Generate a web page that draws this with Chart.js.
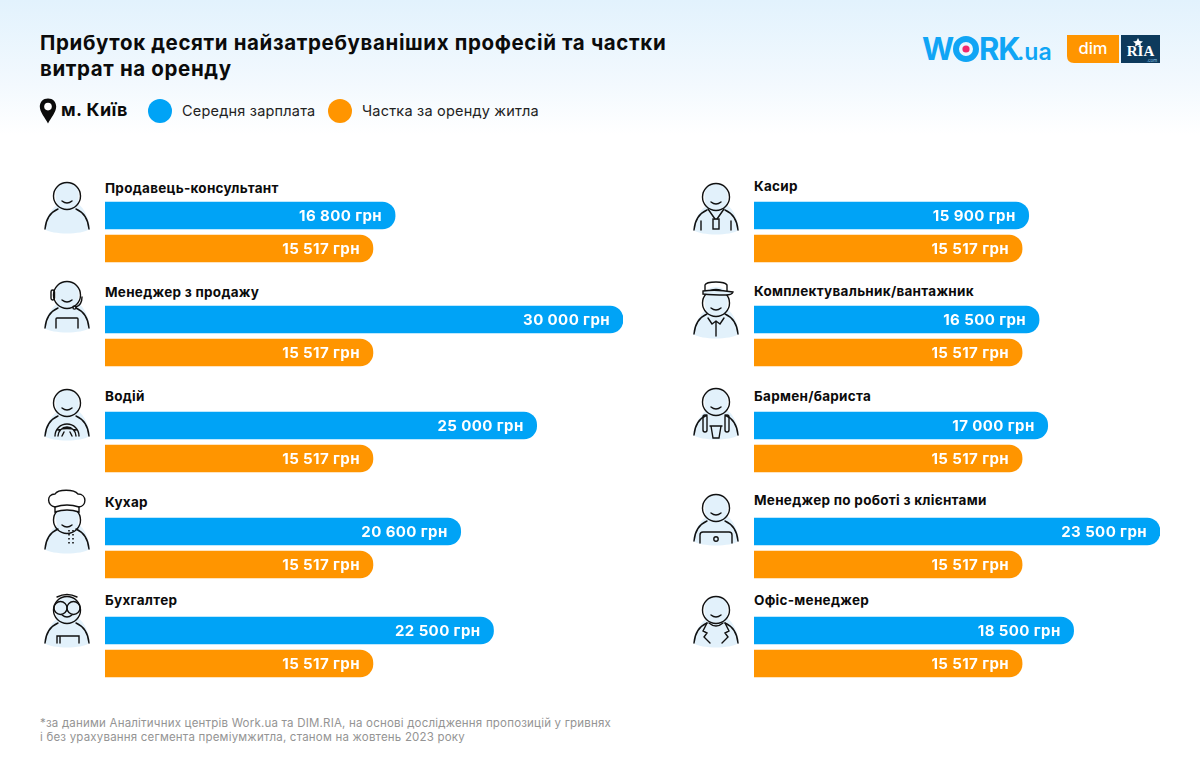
<!DOCTYPE html>
<html lang="uk">
<head>
<meta charset="utf-8">
<title>Прибуток десяти найзатребуваніших професій</title>
<script src="https://cdn.jsdelivr.net/npm/chart.js@4"></script>
<style>
html, body { margin: 0; padding: 0; }
body { width: 1200px; height: 773px; position: relative; overflow: hidden; color: #0b0b0b;
    font-family: Inter, "Noto Sans", sans-serif;
    background: linear-gradient(#e2f2fd 0, #f3f9fe 85px, #fff 135px); }
.abs { position: absolute; white-space: nowrap; }
.title { left: 40px; top: 30px; font-size: 20.5px; line-height: 26px; font-weight: 700; letter-spacing: 0.63px; }
.city { left: 61px; top: 99px; font-size: 18px; font-weight: 700; line-height: 22px; letter-spacing: 0.4px; }
.dot { width: 24px; height: 24px; border-radius: 50%; top: 99px; }
.leg { top: 102px; font-size: 14.5px; line-height: 18px; color: #222; letter-spacing: 0.2px; }
.job { font-size: 13.5px; font-weight: 700; line-height: 16px; letter-spacing: 0.28px; }
.note { left: 40px; top: 716px; font-size: 11.5px; line-height: 14px; color: #949494; letter-spacing: 0.2px; }
canvas { position: absolute; }
svg { overflow: visible; }
</style>
</head>
<body>
<div class="abs title">Прибуток десяти найзатребуваніших професій та частки<br>витрат на оренду</div>
<svg class="abs" style="left:39px;top:98px" width="18" height="26" viewBox="0 0 18 26">
    <path d="M9 0.5C4 0.5 0.8 4 0.8 8.6 0.8 14 6 20 9 25.5 12 20 17.2 14 17.2 8.6 17.2 4 14 0.5 9 0.5Z" fill="#0b0b0b"/>
    <circle cx="9" cy="8.6" r="3.8" fill="#fff"/>
</svg>
<div class="abs city">м. Київ</div>
<div class="abs dot" style="left:148px;background:#00a3f6"></div>
<div class="abs leg" style="left:182px">Середня зарплата</div>
<div class="abs dot" style="left:328px;background:#ff9500"></div>
<div class="abs leg" style="left:362px">Частка за оренду житла</div>

<svg class="abs" style="left:920px;top:30px" width="240" height="40" viewBox="0 0 240 40">
    <text x="2" y="30" font-family="Inter" font-weight="700" font-size="31" letter-spacing="-1" fill="#10a5f5">W</text>
    <circle cx="46" cy="19" r="10" fill="none" stroke="#10a5f5" stroke-width="6"/>
    <circle cx="46" cy="19" r="3.6" fill="#f0286e"/>
    <text x="59" y="30" font-family="Inter" font-weight="700" font-size="31" letter-spacing="-1" fill="#10a5f5">RK</text>
    <text x="97" y="30" font-family="Inter" font-weight="600" font-size="23" fill="#10a5f5">.ua</text>
    <path d="M147 5H199V33H154Q147 33 147 26Z" fill="#ff9500"/>
    <text x="173" y="24" text-anchor="middle" font-family="Inter" font-weight="500" font-size="16.5" fill="#fff">dim</text>
    <rect x="201" y="5" width="39" height="28" fill="#0d3a5c"/>
    <path d="M218 8L219.500 11L223 11.500L220.500 13.500L221 16.500L218 15L215 16.500L215.500 13.500L213 11.500L216.500 11Z" fill="#fff"/>
    <text x="220.500" y="26" text-anchor="middle" font-family="Liberation Serif" font-weight="700" font-size="15" fill="#fff">RIA</text>
    <text x="232" y="31.500" text-anchor="middle" font-family="Inter" font-size="4.500" fill="#8fc4e8">.com</text>
</svg>

<div class="abs note">*за даними Аналітичних центрів Work.ua та DIM.RIA, на основі дослідження пропозицій у гривнях<br>і без урахування сегмента преміумжитла, станом на жовтень 2023 року</div>

<script>
// Дані
var leftJobs = ['Продавець-консультант', 'Менеджер з продажу', 'Водій', 'Кухар', 'Бухгалтер'];
var leftSalary = [16800, 30000, 25000, 20600, 22500];
var rightJobs = ['Касир', 'Комплектувальник/вантажник', 'Бармен/бариста', 'Менеджер по роботі з клієнтами', 'Офіс-менеджер'];
var rightSalary = [15900, 16500, 17000, 23500, 18500];
var rentShare = 15517;
var seriesNames = ['Середня зарплата', 'Частка за оренду житла'];
var leftIcons = ['plain', 'headset', 'wheel', 'chef', 'glasses'];
var rightIcons = ['badge', 'cap', 'cup', 'laptop', 'jacket'];

// Розкладка
var rowTops = [199, 303, 409, 515, 614];
var labelTopsLeft = [180, 284, 388, 494, 592];
var labelTopsRight = [178, 283, 388, 492, 592];
var headsLeft = [196, 295, 403, 520, 610];
var headsRight = [197, 303, 402, 508, 610];
var BLUE = '#00a3f6', ORANGE = '#ff9500';

function fmt(v) {
    return String(v).replace(/\B(?=(\d{3})+$)/g, ' ') + ' грн';
}

// підпис всередині смуги, праворуч
var barLabels = {
    id: 'barLabels',
    afterDatasetsDraw: function(chart) {
        var ctx = chart.ctx;
        var vals = chart.data.datasets[0].data;
        var meta = chart.getDatasetMeta(0);
        ctx.save();
        ctx.font = '700 15px Inter';
        ctx.letterSpacing = '0.4px';
        ctx.fillStyle = '#fff';
        ctx.textAlign = 'right';
        ctx.textBaseline = 'middle';
        meta.data.forEach(function(bar, i) {
            ctx.fillText(fmt(vals[i]), bar.x - 13, bar.y + 0.5);
        });
        ctx.restore();
    }
};

function makeChart(left, top, width, xMax, salary) {
    var c = document.createElement('canvas');
    c.style.left = left + 'px';
    c.style.top = top + 'px';
    c.style.width = width + 'px';
    c.style.height = '66px';
    c.width = width;
    c.height = 66;
    document.body.appendChild(c);
    return new Chart(c, {
        type: 'bar',
        data: {
            labels: seriesNames,
            datasets: [{
                data: [salary, rentShare],
                backgroundColor: [BLUE, ORANGE],
                barThickness: 27,
                borderSkipped: false,
                borderRadius: { topLeft: 0, bottomLeft: 0, topRight: 13, bottomRight: 13 },
            }],
        },
        options: {
            indexAxis: 'y',
            responsive: false,
            animation: false,
            devicePixelRatio: 1,
            layout: { padding: 0 },
            plugins: { legend: { display: false }, tooltip: { enabled: false } },
            scales: {
                x: { display: false, min: 0, max: xMax },
                y: { display: false },
            },
        },
        plugins: [barLabels],
    });
}

// Іконки: голова завжди в (24,17), плечі, блакитна пляма + деталі
var iconDetails = {
    plain: '',
    headset: '<rect x="8" y="12" width="3.500" height="10" rx="1.700"/><path d="M39 19Q39 27 33 29"/><circle cx="31.500" cy="29.500" r="1.600"/><path d="M13 50V41Q13 40 14 40H34Q35 40 35 41V50"/>',
    wheel: '<path d="M12 50A12 12 0 0 1 36 50M15 50A9 9 0 0 1 33 50M15 44Q24 41 33 44M21 46L19 50M27 46L29 50"/>',
    chef: '<path d="M12 9V4C4 3 3 -9 12 -9C15 -14 31 -14 35 -9C44 -9 44 3 36 4V9Q24 5 12 9Z" fill="#fff"/><path d="M12 4Q24 0 36 4"/><path d="M26 27V43M30 27V43" stroke-dasharray="1.600 2.400" stroke-width="1.600" stroke-linecap="butt"/>',
    glasses: '<circle cx="17.500" cy="15" r="6.500"/><circle cx="30.500" cy="15" r="6.500"/><path d="M14 4Q24 -1 34 4"/><path d="M14 50V43H36V50M17 43V50"/>',
    badge: '<path d="M16 29L23 39M32 29L25 39"/><rect x="21" y="39" width="6" height="10"/><path d="M9 41V50M39 41V50"/>',
    cap: '<path d="M13 5V-1Q14 -4 24 -4Q33 -4 35 -1V5"/><path d="M11 5Q24 3 41 6Q40 9 34 9Q20 9 11 8Z" fill="#e2f1fb"/><path d="M16 32L20 38L24 35L28 38L32 32M24 35V50"/>',
    cup: '<rect x="11" y="30" width="4" height="17" rx="2"/><rect x="33" y="30" width="4" height="17" rx="2"/><path d="M18 41H30M19 41L21 53H27L29 41"/>',
    laptop: '<path d="M8 52V44Q8 41 11 41H37Q40 41 40 44V52"/><circle cx="24" cy="48" r="2.200"/>',
    jacket: '<path d="M15 30L11 38L15 40L12 44L18 50M33 30L37 38L33 40L36 44L30 50M17 30Q24 36 31 30"/>',
};
var shoulderShift = { chef: -4, cap: -2 };

function iconSvg(kind) {
    var dy = shoulderShift[kind] || 0;
    return '<svg class="abs" width="48" height="56" viewBox="0 0 48 56" fill="none" stroke="#111" stroke-width="1.400" stroke-linecap="round">' +
        '<path transform="translate(0,' + dy + ')" d="M24 3C36 3 37 14 35 25 42 30 46 40 47 50 38 56 10 56 1 50 2 40 8 30 14 26 11 14 12 3 24 3Z" fill="#e2f1fb" stroke="none"/>' +
        '<circle cx="24" cy="17" r="13.500"/>' +
        '<path d="M19 22Q24 26 29 22"/>' +
        '<path transform="translate(0,' + dy + ')" d="M2 50C3 39 8 33 15 30M46 50C45 39 40 33 33 30"/>' +
        iconDetails[kind] + '</svg>';
}

function addRow(job, icon, left, labelTop, iconLeft, head, top, width, xMax, salary) {
    var lbl = document.createElement('div');
    lbl.className = 'abs job';
    lbl.style.left = left + 'px';
    lbl.style.top = labelTop + 'px';
    lbl.textContent = job;
    document.body.appendChild(lbl);

    var w = document.createElement('div');
    w.className = 'abs';
    w.style.left = iconLeft + 'px';
    w.style.top = (head - 17) + 'px';
    w.innerHTML = iconSvg(icon);
    document.body.appendChild(w);

    makeChart(left, top, width, xMax, salary);
}

leftJobs.forEach(function(job, i) {
    addRow(job, leftIcons[i], 105, labelTopsLeft[i], 43, headsLeft[i], rowTops[i], 518, 30000, leftSalary[i]);
});
rightJobs.forEach(function(job, i) {
    addRow(job, rightIcons[i], 754, labelTopsRight[i], 692, headsRight[i], rowTops[i], 406, 23500, rightSalary[i]);
});
</script>
</body>
</html>
